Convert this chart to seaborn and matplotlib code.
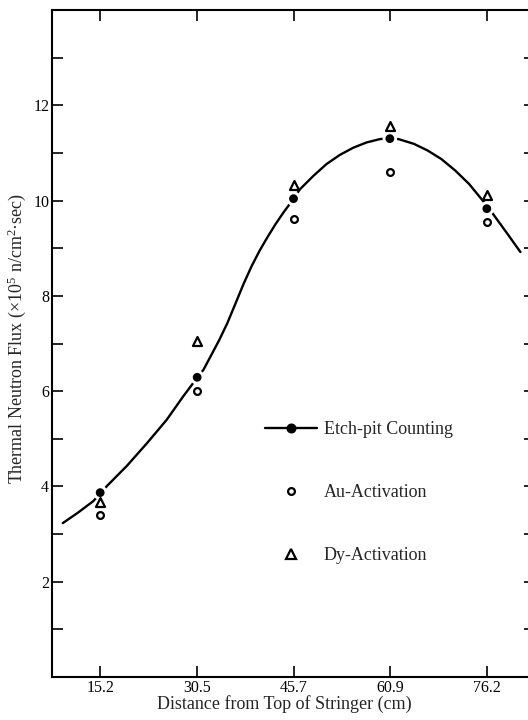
import numpy as np
import pandas as pd
import matplotlib
matplotlib.use("Agg")
import matplotlib.pyplot as plt
import seaborn as sns
from matplotlib.lines import Line2D

# ---- data ----
distance = [15.2, 30.5, 45.7, 60.9, 76.2]
etch_pit = [3.87, 6.29, 10.04, 11.30, 9.83]
au_activation = [3.41, 6.01, 9.62, 10.60, 9.54]
dy_activation = [3.67, 7.06, 10.33, 11.57, 10.12]

# hand-drawn smooth curve
curve_x = [9.3, 11.7, 14.1, 16.35, 19.4, 22.6, 25.7, 28.3, 29.65, 31.5,
           32.74, 34.01, 35.27, 36.55, 37.82, 39.08, 40.36, 41.63, 42.89,
           44.17, 45.17, 46.74, 48.85, 50.94, 53.03, 55.14, 57.23, 59.33,
           60.9, 62.27, 64.71, 66.87, 69.04, 71.22, 73.39, 75.55, 77.17, 79.3,
           81.5]
curve_y = [3.23, 3.45, 3.69, 4.02, 4.43, 4.91, 5.40, 5.89, 6.13, 6.45,
           6.76, 7.08, 7.43, 7.84, 8.25, 8.62, 8.95, 9.24, 9.51,
           9.76, 9.94, 10.24, 10.52, 10.77, 10.96, 11.11, 11.22, 11.29,
           11.31, 11.29, 11.19, 11.05, 10.87, 10.63, 10.35, 10.00, 9.72, 9.33,
           8.92]

x_ticks = [15.2, 30.5, 45.7, 60.9, 76.2]
x_tick_labels = ["15.2", "30.5", "45.7", "60.9", "76.2"]
y_major = [2, 4, 6, 8, 10, 12]
y_minor = [1, 3, 5, 7, 9, 11, 13]

series_labels = ["Etch-pit Counting", "Au-Activation", "Dy-Activation"]
x_label = "Distance from Top of Stringer (cm)"
y_label = "Thermal Neutron Flux (\u00d710$^5$ n/cm$^2$\u00b7sec)"

# ---- style ----
sns.set_theme(style="ticks")
plt.rcParams['font.family'] = ['Liberation Serif', 'DejaVu Serif']
plt.rcParams['mathtext.fontset'] = 'custom'
plt.rcParams['mathtext.rm'] = 'Liberation Serif'
plt.rcParams['mathtext.it'] = 'Liberation Serif:italic'
plt.rcParams['mathtext.bf'] = 'Liberation Serif:bold'

fig = plt.figure(figsize=(5.28, 7.2), dpi=100)
fig.patch.set_facecolor('white')
ax = fig.add_axes([52/528, 1 - 677/720, (535 - 52)/528, (677 - 10)/720])
ax.set_facecolor('white')

curve_df = pd.DataFrame({"x": curve_x, "y": curve_y})
sns.lineplot(data=curve_df, x="x", y="y", color="black", lw=1.7,
             sort=False, estimator=None, ax=ax, zorder=2)

# white halo to give the hand-drawn gap around the etch-pit dots
sns.scatterplot(x=distance, y=etch_pit, s=110, color="white",
                edgecolor="none", ax=ax, zorder=3)
sns.scatterplot(x=distance, y=etch_pit, s=40, color="black",
                edgecolor="none", ax=ax, zorder=4)
sns.scatterplot(x=distance, y=au_activation, s=24, marker="o",
                facecolor="white", edgecolor="black", linewidth=1.6,
                ax=ax, zorder=4)
sns.scatterplot(x=distance, y=dy_activation, s=42, marker="^",
                facecolor="white", edgecolor="black", linewidth=1.6,
                ax=ax, zorder=4)

ax.set_xlim(7.6, 83.8)
ax.set_ylim(0, 14)
ax.set_xticks(x_ticks)
ax.set_xticklabels(x_tick_labels)
ax.set_yticks(y_major)
ax.set_yticks(y_minor, minor=True)

for sp in ax.spines.values():
    sp.set_linewidth(1.5)
    sp.set_color("black")

ax.tick_params(which="both", direction="in", length=8, width=1.2,
               top=True, right=True, labeltop=False, labelright=False,
               colors="black", labelsize=11.5, pad=2)

ax.set_xlabel(x_label, fontsize=13)
ax.set_ylabel(y_label, fontsize=13)
ax.xaxis.set_label_coords(0.48, -0.027)
ax.yaxis.set_label_coords(-0.05, 0.508)

handles = [
    Line2D([], [], color="black", lw=1.7, marker="o", markersize=6.2,
           label=series_labels[0]),
    Line2D([], [], ls="none", marker="o", mfc="white", mec="black",
           mew=1.6, markersize=4.9, label=series_labels[1]),
    Line2D([], [], ls="none", marker="^", mfc="white", mec="black",
           mew=1.6, markersize=6.5, label=series_labels[2]),
]
ax.legend(handles=handles, loc="upper left",
          bbox_to_anchor=(265/528, 1 - 421/720),
          bbox_transform=fig.transFigure, frameon=False,
          fontsize=13, handlelength=2.9, handletextpad=0.35,
          labelspacing=2.55, borderpad=0, borderaxespad=0)

fig.savefig("out.png", dpi=100, facecolor="white")
